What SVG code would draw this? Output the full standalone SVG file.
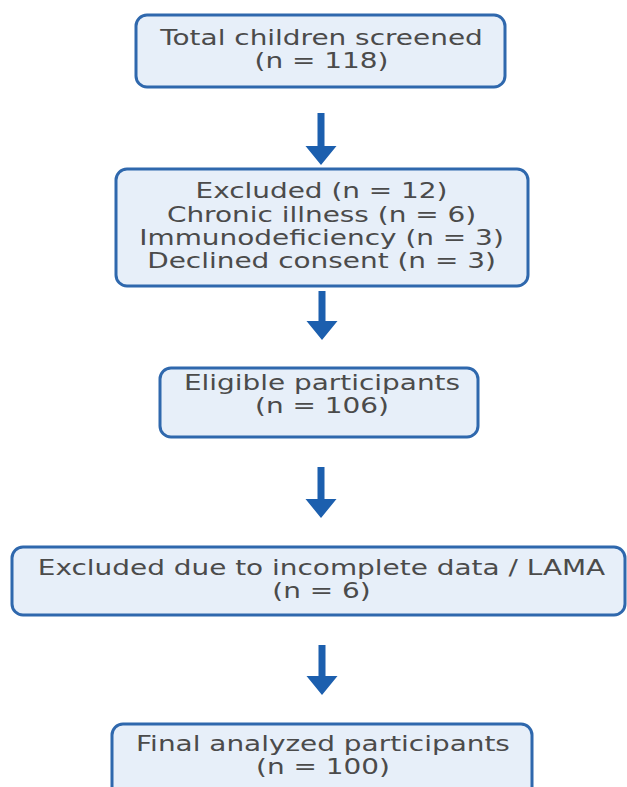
<svg xmlns="http://www.w3.org/2000/svg" width="627" height="787" viewBox="0 0 627 787">
<style>
  .box { fill: #e7eff9; stroke: #2f68ad; stroke-width: 3; }
  .t { font-family: "DejaVu Sans", "Liberation Sans", sans-serif; font-size: 21px; fill: #4b4b4b; text-anchor: middle; }
  .arr { fill: #1c5fae; }
</style>
<rect width="627" height="787" fill="#ffffff"/>
<g id="connectors">
  <path class="arr" d="M317.5,113 h7 v33 h12 l-15.5,19 l-15.5,-19 h12 z"/>
  <path class="arr" d="M318.5,291 h7 v30 h12 l-15.5,19 l-15.5,-19 h12 z"/>
  <path class="arr" d="M317.5,467 h7 v32 h12 l-15.5,19 l-15.5,-19 h12 z"/>
  <path class="arr" d="M318.5,645 h7 v31 h12 l-15.5,19 l-15.5,-19 h12 z"/>
</g>
<g id="screened">
  <rect class="box" x="136" y="15" width="369" height="72" rx="11"/>
  <g transform="translate(321.5 0) scale(1.33 1)">
    <text class="t" x="0" y="45">Total children screened</text>
    <text class="t" x="0" y="68">(n = 118)</text>
  </g>
</g>
<g id="excluded">
  <rect class="box" x="116" y="169" width="412" height="117" rx="11"/>
  <g transform="translate(321.5 0) scale(1.33 1)">
    <text class="t" x="0" y="198">Excluded (n = 12)</text>
    <text class="t" x="0" y="222">Chronic illness (n = 6)</text>
    <text class="t" x="0" y="245">Immunodeficiency (n = 3)</text>
    <text class="t" x="0" y="268">Declined consent (n = 3)</text>
  </g>
</g>
<g id="eligible">
  <rect class="box" x="160" y="368" width="318" height="69" rx="11"/>
  <g transform="translate(322 0) scale(1.33 1)">
    <text class="t" x="0" y="390">Eligible participants</text>
    <text class="t" x="0" y="413">(n = 106)</text>
  </g>
</g>
<g id="excluded-incomplete">
  <rect class="box" x="12" y="547" width="613" height="68" rx="11"/>
  <g transform="translate(321.5 0) scale(1.33 1)">
    <text class="t" x="0" y="575">Excluded due to incomplete data / LAMA</text>
    <text class="t" x="0" y="598">(n = 6)</text>
  </g>
</g>
<g id="final">
  <rect class="box" x="112" y="724" width="420" height="74" rx="11"/>
  <g transform="translate(323 0) scale(1.33 1)">
    <text class="t" x="0" y="751">Final analyzed participants</text>
    <text class="t" x="0" y="774">(n = 100)</text>
  </g>
</g>
</svg>
